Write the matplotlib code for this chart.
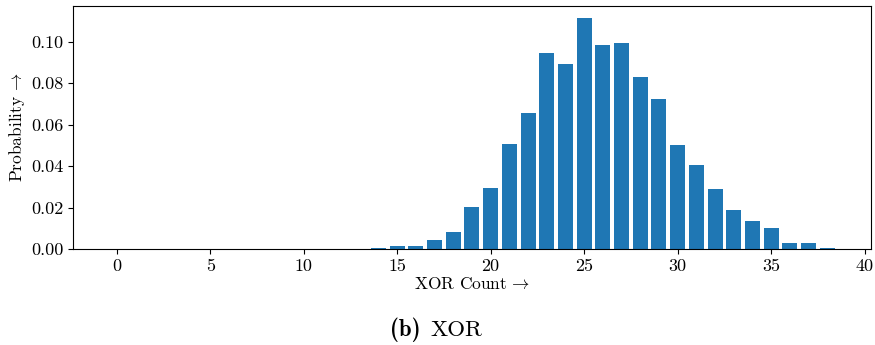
import matplotlib
matplotlib.use("Agg")
import matplotlib.pyplot as plt
from matplotlib.offsetbox import AnnotationBbox, HPacker, TextArea

# XOR count distribution
xor_counts = list(range(0, 39))
probabilities = [
    0.0, 0.0, 0.0, 0.0, 0.0, 0.0, 0.0, 0.0, 0.0, 0.0,
    0.0, 0.0, 0.0, 0.0,
    0.0003, 0.0014, 0.0014, 0.0043, 0.0082, 0.0203,
    0.0295, 0.0507, 0.0657, 0.0947, 0.0894, 0.1116,
    0.0986, 0.0995, 0.0831, 0.0725, 0.0502, 0.0406,
    0.0290, 0.0188, 0.0135, 0.0100, 0.0029, 0.0029,
    0.0003,
]
xticks = [0, 5, 10, 15, 20, 25, 30, 35, 40]
yticks = [0.00, 0.02, 0.04, 0.06, 0.08, 0.10]

plt.rcParams["font.family"] = ["cmr10", "DejaVu Serif"]
plt.rcParams["mathtext.fontset"] = "cm"
plt.rcParams["axes.formatter.use_mathtext"] = True
plt.rcParams["axes.unicode_minus"] = False

fig = plt.figure(figsize=(8.75, 3.45), dpi=100)
ax = fig.add_axes([0.0834, 0.278, 0.912, 0.7046])

ax.bar(xor_counts, probabilities, width=0.8, color="#1f77b4")
ax.set_xticks(xticks)
ax.set_xticklabels([str(t) for t in xticks])
ax.set_yticks(yticks)
ax.set_yticklabels([f"{t:.2f}" for t in yticks])
ax.tick_params(labelsize=13)
ax.set_xlabel(r"XOR Count$\,\rightarrow$", fontsize=12.5, labelpad=1)
ax.set_ylabel(r"Probability$\,\rightarrow$", fontsize=12.5, labelpad=3)

# caption: bold "(b)" followed by regular "XOR"
caption = HPacker(
    children=[
        TextArea("(b)", textprops=dict(family="cmb10", fontsize=16.5)),
        TextArea("XOR", textprops=dict(family="cmr10", fontsize=16.5)),
    ],
    align="baseline", pad=0, sep=7,
)
fig.add_artist(AnnotationBbox(
    caption, (0.498, 0.043), xycoords="figure fraction",
    frameon=False, box_alignment=(0.5, 0.5),
))

fig.savefig("out.png", dpi=100)
